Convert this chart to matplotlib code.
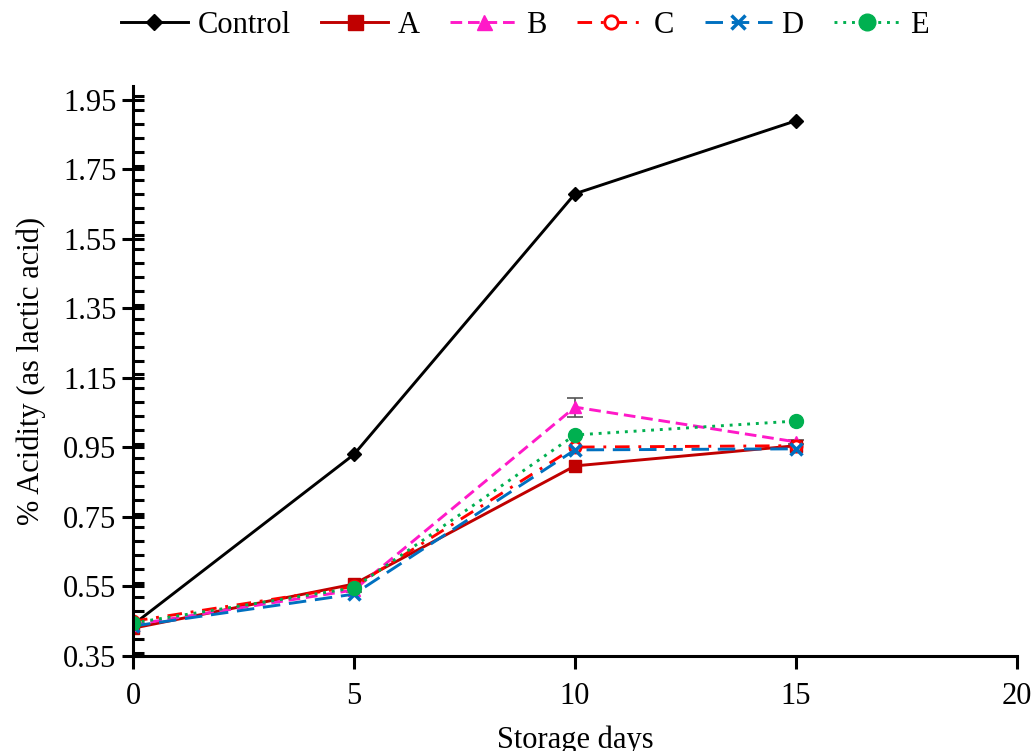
import matplotlib.pyplot as plt
from matplotlib.ticker import MultipleLocator

plt.rcParams['font.family'] = ['Liberation Serif', 'DejaVu Serif']

# === DATA ===
days = [0, 5, 10, 15]
control = [0.44, 0.93, 1.68, 1.89]
a_vals = [0.43, 0.557, 0.897, 0.955]
b_vals = [0.44, 0.54, 1.066, 0.966]
c_vals = [0.45, 0.55, 0.951, 0.955]
d_vals = [0.436, 0.528, 0.943, 0.946]
e_vals = [0.445, 0.546, 0.986, 1.026]
b_err = [0.005, 0.005, 0.027, 0.005]

fig = plt.figure(figsize=(10.35, 7.51), dpi=100)
ax = fig.add_axes([133 / 1035, 95 / 751, 884 / 1035, 570 / 751])

lw = 2.1
# error bar on B (the only visible one)
ax.errorbar(days, b_vals, yerr=b_err, fmt='none', ecolor='#555555',
            elinewidth=1.2, capsize=6, capthick=1.2)

ax.plot(days, control, color='black', lw=lw, marker='D', ms=7,
        label='Control')
ax.plot(days, a_vals, color='#C00000', lw=lw, marker='s', ms=9, label='A')
ax.plot(days, b_vals, color='#FF19C8', lw=lw, ls=(0, (4, 2)), marker='^',
        ms=9, label='B')
ax.plot(days, c_vals, color='#FF0000', lw=lw, ls=(0, (5, 3, 1, 3)),
        marker='o', ms=8, mfc='white', mew=2, label='C')
ax.plot(days, d_vals, color='#0070C0', lw=lw, ls=(0, (6, 3)), marker='x',
        ms=8, mew=2.5, label='D')
ax.plot(days, e_vals, color='#00B050', lw=lw, ls=(0, (1, 2)), marker='o',
        ms=10, label='E')

ax.set_xlim(0, 20)
ax.set_ylim(0.35, 1.99)
ax.xaxis.set_major_locator(MultipleLocator(5))
ax.set_yticks([0.35, 0.55, 0.75, 0.95, 1.15, 1.35, 1.55, 1.75, 1.95])
ax.yaxis.set_minor_locator(MultipleLocator(0.04))
ax.set_yticklabels(['0.35', '0.55', '0.75', '0.95', '1.15', '1.35', '1.55',
                    '1.75', '1.95'])

for s in ['top', 'right']:
    ax.spines[s].set_visible(False)
for s in ['left', 'bottom']:
    ax.spines[s].set_linewidth(2.2)

ax.tick_params(axis='y', which='major', direction='inout', length=16,
               width=2.2, labelsize=22, pad=4)
ax.tick_params(axis='y', which='minor', direction='in', length=8, width=2.2)
ax.tick_params(axis='x', which='major', direction='out', length=9,
               width=2.2, labelsize=22, pad=10)

ax.set_xlabel('Storage days', fontsize=22, labelpad=10)
ax.set_ylabel('% Acidity (as lactic acid)', fontsize=22, labelpad=12)

fig.legend(loc='upper center', bbox_to_anchor=(0.507, 1.022), ncol=6,
           frameon=False, fontsize=22, handlelength=2.2, handletextpad=0.3,
           columnspacing=1.0, markerscale=1.2)

fig.savefig('out.png', dpi=100)
